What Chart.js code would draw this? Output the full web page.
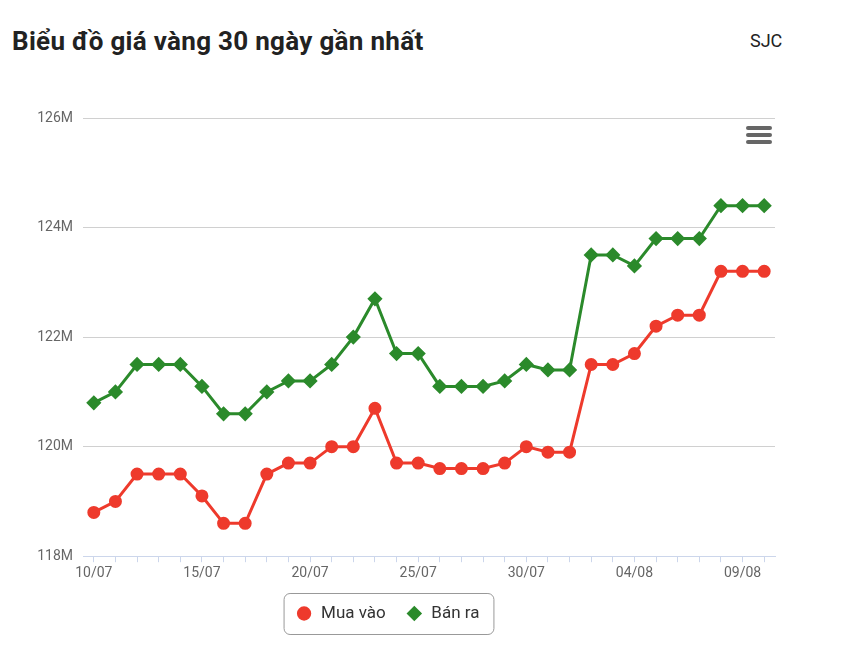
<!DOCTYPE html>
<html><head><meta charset="utf-8">
<script src="https://cdn.jsdelivr.net/npm/chart.js@4"></script>
<style>
body{margin:0;background:#fff;font-family:Roboto,"Noto Sans",sans-serif}
#wrap{position:relative;width:842px;height:656px}
#title{position:absolute;left:12px;top:26px;font-size:26px;font-weight:bold;color:#222;letter-spacing:0.3px}
#src{position:absolute;left:750px;top:30px;font-size:18px;color:#222}
#menu{position:absolute;left:746px;top:126px;width:26px}
#menu div{height:4px;background:#666;border-radius:2px;margin-bottom:3px}
canvas{position:absolute;left:0;top:0}
</style></head><body>
<div id="wrap">
<div id="title">Biểu đồ giá vàng 30 ngày gần nhất</div>
<div id="src">SJC</div>
<canvas id="c" width="842" height="656"></canvas>
<div id="menu"><div></div><div></div><div></div></div>
</div>
<script>
// dates 10/07 .. 10/08
const days = ['10/07','11/07','12/07','13/07','14/07','15/07','16/07','17/07','18/07','19/07','20/07','21/07','22/07','23/07','24/07','25/07','26/07','27/07','28/07','29/07','30/07','31/07','01/08','02/08','03/08','04/08','05/08','06/08','07/08','08/08','09/08','10/08']
const muaVao = [118.8,119.0,119.5,119.5,119.5,119.1,118.6,118.6,119.5,119.7,119.7,120.0,120.0,120.7,119.7,119.7,119.6,119.6,119.6,119.7,120.0,119.9,119.9,121.5,121.5,121.7,122.2,122.4,122.4,123.2,123.2,123.2]
const banRa = [120.8,121.0,121.5,121.5,121.5,121.1,120.6,120.6,121.0,121.2,121.2,121.5,122.0,122.7,121.7,121.7,121.1,121.1,121.1,121.2,121.5,121.4,121.4,123.5,123.5,123.3,123.8,123.8,123.8,124.4,124.4,124.4]
const yTicks = [118,120,122,124,126]

// rounded box around the legend items only
const legendBox = {
  id:'legendBox',
  afterDraw(chart){
    const hb = chart.legend.legendHitBoxes, ctx = chart.ctx
    if(!hb || !hb.length) return
    const x0 = Math.min(...hb.map(h=>h.left)) - 12
    const x1 = Math.max(...hb.map(h=>h.left+h.width)) + 14
    const y0 = hb[0].top - 12, y1 = hb[0].top + hb[0].height + 12
    ctx.save()
    ctx.strokeStyle = '#999'; ctx.lineWidth = 1
    ctx.beginPath()
    ctx.roundRect(x0+0.5, y0+0.5, x1-x0, y1-y0, 6)
    ctx.stroke()
    ctx.restore()
  }
}

new Chart(document.getElementById('c'), {
  type:'line',
  data:{
    labels:days,
    datasets:[
      {label:'Mua vào', data:muaVao, borderColor:'#ee3a2c', backgroundColor:'#ee3a2c', borderWidth:3, pointStyle:'circle', pointRadius:5, pointHoverRadius:5, tension:0},
      {label:'Bán ra', data:banRa, borderColor:'#2b8a2b', backgroundColor:'#2b8a2b', borderWidth:3, pointStyle:'rectRot', pointRadius:5.5, pointHoverRadius:5.5, tension:0}
    ]
  },
  options:{
    responsive:false, animation:false,
    layout:{padding:{top:118,right:67,bottom:24,left:0}},
    plugins:{
      tooltip:{enabled:false},
      legend:{position:'bottom', labels:{usePointStyle:true, boxWidth:24, boxHeight:8, padding:20, color:'#333', font:{family:'Roboto', size:17},
        generateLabels(chart){
          return chart.data.datasets.map((d,i)=>({text:d.label, fillStyle:d.backgroundColor, strokeStyle:d.borderColor, lineWidth:3, pointStyle:d.pointStyle, datasetIndex:i, fontColor:'#333'}))
        }}}
    },
    scales:{
      x:{
        offset:true,
        grid:{display:true, drawOnChartArea:false, drawTicks:true, tickLength:6, color:'#ccd6eb'},
        border:{color:'#ccd6eb'},
        ticks:{autoSkip:false, maxRotation:0, color:'#666', font:{family:'Roboto', size:14},
          callback:(v,i)=> i%5===0 ? days[i] : ''}
      },
      y:{
        min:118, max:126,
        afterBuildTicks(s){ s.ticks = yTicks.map(v=>({value:v})) },
        afterFit(s){ s.width = 83 },
        grid:{color:'#d0d0d0', drawTicks:false},
        border:{display:false},
        ticks:{padding:10, color:'#666', font:{family:'Roboto', size:14}, callback:v=>v+'M'}
      }
    }
  },
  plugins:[legendBox]
})
</script>
</body></html>
